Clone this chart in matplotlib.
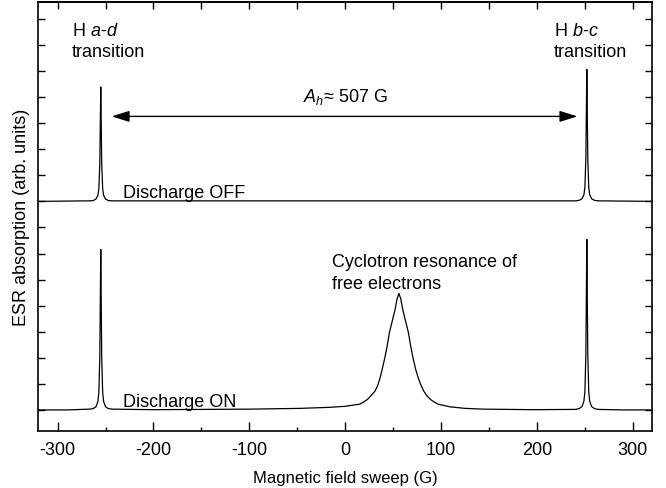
import matplotlib
matplotlib.use("Agg")
import matplotlib.pyplot as plt

# ESR spectra, field in gauss, signal in arbitrary units (OFF trace offset by 8)
off_field = [-320, -267, -263, -260, -258, -257, -256, -255.5, -255, -254.5, -254, -253,
             -252, -250, -247, -243, 240, 244, 247, 249, 250, 251, 251.5, 252, 252.5,
             253, 254, 255, 257, 260, 264, 320]
off_signal = [8.0, 8.02, 8.03, 8.09, 8.23, 8.48, 9.44, 10.9, 12.39, 10.9, 9.44, 8.48,
              8.23, 8.09, 8.03, 8.02, 8.02, 8.04, 8.1, 8.26, 8.55, 9.66, 11.35, 13.06, 11.35,
              9.66, 8.55, 8.26, 8.1, 8.04, 8.02, 8.0]

on_field = [-320, -290, -267, -263, -260, -258, -257, -256, -255.5, -255, -254.5, -254,
            -253, -252, -250, -247, -243, -200, -150, -100, -47, -16, 0, 15, 19, 23,
            27, 31, 34, 36.5, 38.5, 41, 43.5, 46, 48, 50, 52, 54, 56, 58, 60, 62, 64, 66,
            68.5, 71, 73.5, 76, 79, 82, 85, 89, 93, 97, 109, 125, 144, 196,
            240, 244, 247, 249, 250, 251, 251.5, 252, 252.5, 253, 254,
            255, 257, 260, 264, 290, 320]
on_signal = [0.0, 0.0, 0.03, 0.05, 0.12, 0.32, 0.67, 2.02, 4.07, 6.15, 4.07, 2.02,
             0.67, 0.32, 0.12, 0.05, 0.03, 0.01, 0.02, 0.03, 0.06, 0.10, 0.14, 0.22, 0.30, 0.40,
             0.55, 0.72, 0.95, 1.25, 1.55, 1.95, 2.4, 2.95, 3.25, 3.55, 3.85, 4.25, 4.47, 4.25,
             3.85, 3.55, 3.25, 2.95, 2.4, 1.95, 1.55, 1.25, 0.95, 0.72, 0.55, 0.40, 0.30, 0.22,
             0.12, 0.06, 0.03, 0.01,
             0.02, 0.05, 0.13, 0.34, 0.71, 2.15, 4.33, 6.54, 4.33, 2.15, 0.71,
             0.34, 0.13, 0.05, 0.02, 0.0, 0.0]

x_ticks = [-300, -200, -100, 0, 100, 200, 300]
splitting_ends = [-243.7, 242.2]
splitting_level = 11.26

plt.rcParams["font.family"] = ["Liberation Sans", "DejaVu Sans"]
plt.rcParams["mathtext.fontset"] = "custom"
plt.rcParams["mathtext.rm"] = "Liberation Sans"
plt.rcParams["mathtext.it"] = "Liberation Sans:italic"
plt.rcParams["axes.unicode_minus"] = False
plt.rcParams["font.size"] = 13

fig = plt.figure(figsize=(6.66, 4.89), dpi=100)
ax = fig.add_axes([0.057, 0.117, 0.922, 0.877])

ax.plot(off_field, off_signal, color="black", lw=0.9)
ax.plot(on_field, on_signal, color="black", lw=0.9)

ax.set_xlim(-320.5, 320)
ax.set_ylim(-0.8, 15.65)

ax.set_xticks(x_ticks)
ax.set_xticks(range(-300, 301, 50), minor=True)
ax.set_yticks(range(0, 16))
ax.set_yticklabels([])
ax.tick_params(axis="x", which="major", direction="in", length=6.5, width=1.0, pad=7)
ax.tick_params(axis="x", which="minor", direction="in", length=3, width=1.0)
ax.tick_params(axis="y", which="major", direction="in", length=5, width=1.0,
               left=True, right=True)
for side in ax.spines.values():
    side.set_linewidth(1.2)

top = ax.secondary_xaxis("top")
top.set_xticks(range(-300, 301, 50))
top.set_xticklabels([])
top.tick_params(direction="in", length=5, width=1.0)
top.spines["top"].set_linewidth(1.2)

ax.set_xlabel("Magnetic field sweep (G)", fontsize=12)
ax.xaxis.set_label_coords(0.5, -0.092)
ax.set_ylabel("ESR absorption (arb. units)")
ax.yaxis.set_label_coords(-0.013, 0.5)

# hyperfine splitting arrow
ax.annotate("", xy=(splitting_ends[0], splitting_level),
            xytext=(splitting_ends[1], splitting_level),
            arrowprops=dict(arrowstyle="<|-|>,head_length=0.9,head_width=0.28",
                            mutation_scale=12, color="black", lw=1.0,
                            shrinkA=0, shrinkB=0))
ax.text(0.5, 11.85, "$A_h$≈ 507 G", ha="center", va="baseline")

ax.text(-285, 14.40, "H $a$-$d$", ha="left", va="baseline")
ax.text(-285, 13.57, "transition", ha="left", va="baseline")
ax.text(217.5, 14.40, "H $b$-$c$", ha="left", va="baseline")
ax.text(217, 13.57, "transition", ha="left", va="baseline")

ax.text(-231.8, 8.17, "Discharge OFF", ha="left", va="baseline")
ax.text(-231.5, 0.15, "Discharge ON", ha="left", va="baseline")
ax.text(-14, 5.54, "Cyclotron resonance of", ha="left", va="baseline")
ax.text(-14, 4.69, "free electrons", ha="left", va="baseline")

fig.savefig("out.png", dpi=100)
